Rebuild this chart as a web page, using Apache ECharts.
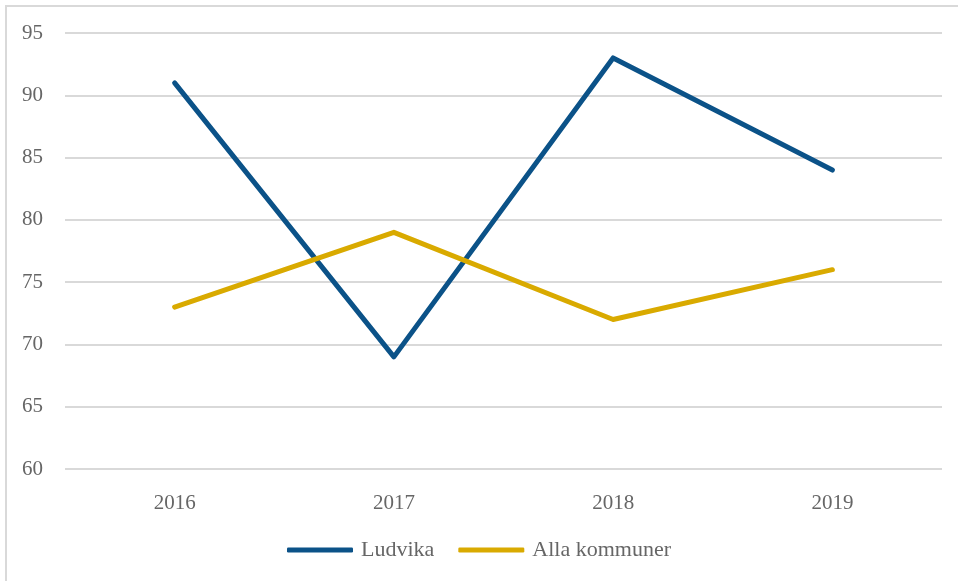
<!DOCTYPE html>
<html><head><meta charset="utf-8">
<script src="https://cdn.jsdelivr.net/npm/echarts@6/dist/echarts.min.js"></script>
<style>
html,body{margin:0;padding:0;background:#fff;overflow:hidden}
#frame{position:absolute;left:5px;top:5px;width:960px;height:600px;border-left:2px solid #d9d9d9;border-top:2px solid #d9d9d9}
#c{position:absolute;left:0;top:0;width:958px;height:581px}
</style></head>
<body>
<div id="frame"></div>
<div id="c"></div>
<script>
const categories = ['2016', '2017', '2018', '2019'];
const ludvika = [91, 69, 93, 84];
const allaKommuner = [73, 79, 72, 76];
const seriesNames = ['Ludvika', 'Alla kommuner'];

const font = 'Liberation Serif, DejaVu Serif, serif';
const txt = '#666666';
const chart = echarts.init(document.getElementById('c'), null, {renderer: 'canvas'});
chart.setOption({
  animation: false,
  backgroundColor: 'transparent',
  grid: {left: 65, right: 16, top: 33, bottom: 112, containLabel: false},
  legend: {
    bottom: 15, left: 'center',
    icon: 'roundRect', itemWidth: 66, itemHeight: 5, itemGap: 24,
    textStyle: {fontFamily: font, fontSize: 22, color: txt, padding: [0, 0, 0, 3]},
    data: seriesNames
  },
  xAxis: {
    type: 'category', data: categories, boundaryGap: true,
    axisLine: {show: false}, axisTick: {show: false},
    axisLabel: {fontFamily: font, fontSize: 21, color: txt, margin: 24}
  },
  yAxis: {
    type: 'value', min: 60, max: 95, interval: 5,
    axisLine: {show: false}, axisTick: {show: false},
    axisLabel: {fontFamily: font, fontSize: 21, color: txt, margin: 22},
    splitLine: {lineStyle: {color: '#d9d9d9', width: 2}}
  },
  series: [
    {name: seriesNames[0], type: 'line', data: ludvika, showSymbol: false, symbol: 'none',
     lineStyle: {color: '#0b5288', width: 5, cap: 'round', join: 'round'}, itemStyle: {color: '#0b5288'}},
    {name: seriesNames[1], type: 'line', data: allaKommuner, showSymbol: false, symbol: 'none',
     lineStyle: {color: '#d9aa00', width: 5, cap: 'round', join: 'round'}, itemStyle: {color: '#d9aa00'}}
  ]
});
</script>
</body></html>
